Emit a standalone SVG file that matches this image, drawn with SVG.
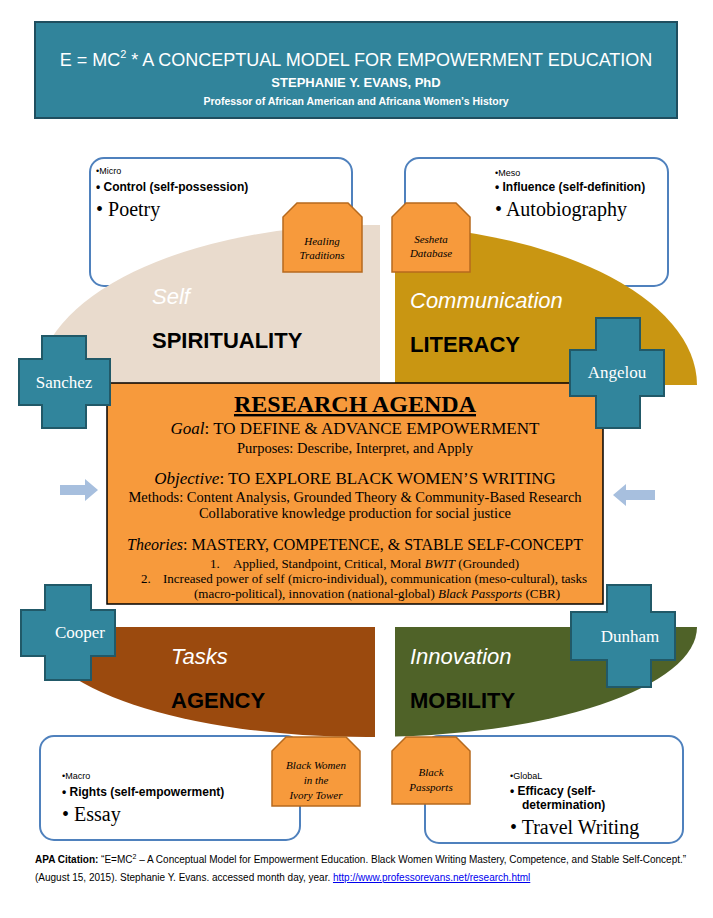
<svg xmlns="http://www.w3.org/2000/svg" width="713" height="918" viewBox="0 0 713 918">
<style>
.s{font-family:"Liberation Sans",Arial,sans-serif}
.r{font-family:"Liberation Serif","Times New Roman",serif}
.box{fill:#fff;stroke:#4F81BD;stroke-width:2}
.cross{fill:#31859C;stroke:#215968;stroke-width:2}
.tag{fill:#F79A3C;stroke:#B66A1E;stroke-width:1.5}
.ct{fill:#fff;font-size:17px;text-anchor:middle}
.q{font-size:22px;fill:#fff;font-style:italic}
.b{font-size:22px;font-weight:bold;fill:#000}
.tt{font-size:11px;font-style:italic;text-anchor:middle}
</style>
<defs>
<clipPath id="tl"><rect x="0" y="0" width="380" height="385"/></clipPath>
<clipPath id="tr"><rect x="395" y="0" width="320" height="385"/></clipPath>
<clipPath id="bl"><rect x="0" y="627" width="375" height="200"/></clipPath>
<clipPath id="br"><rect x="395" y="627" width="320" height="200"/></clipPath>
</defs>
<rect width="713" height="918" fill="#fff"/>
<g id="header">
<rect x="35" y="22" width="642" height="96" fill="#31849B" stroke="#1F4E5F" stroke-width="2"/>
<text class="s" x="356" y="66" fill="#fff" font-size="18" text-anchor="middle">E = MC<tspan font-size="11" dy="-8">2</tspan><tspan dy="8">  * A CONCEPTUAL MODEL FOR  EMPOWERMENT EDUCATION</tspan></text>
<text class="s" x="356" y="87" fill="#fff" font-size="13" font-weight="bold" text-anchor="middle">STEPHANIE Y. EVANS, PhD</text>
<text class="s" x="356" y="105" fill="#fff" font-size="10.5" font-weight="bold" text-anchor="middle">Professor of African American and Africana Women’s History</text>
</g>
<g id="box-micro">
<rect class="box" x="90" y="158" width="262" height="128" rx="14"/>
<text class="s" x="96" y="174" font-size="9">•Micro</text>
<text class="s" x="96" y="191" font-size="12" font-weight="bold">• Control (self-possession)</text>
<text class="r" x="96" y="216" font-size="20">• Poetry</text>
</g>
<g id="box-meso">
<rect class="box" x="405" y="158" width="263" height="128" rx="14"/>
<text class="s" x="495" y="176" font-size="9">•Meso</text>
<text class="s" x="495" y="191" font-size="12" font-weight="bold">• Influence (self-definition)</text>
<text class="r" x="495" y="216" font-size="20">• Autobiography</text>
</g>
<g id="box-macro">
<rect class="box" x="40" y="736" width="260" height="104" rx="14"/>
<text class="s" x="62" y="779" font-size="9">•Macro</text>
<text class="s" x="62" y="796" font-size="12" font-weight="bold">• Rights (self-empowerment)</text>
<text class="r" x="62" y="821" font-size="20">• Essay</text>
</g>
<g id="box-global">
<rect class="box" x="425" y="736" width="258" height="107" rx="14"/>
<text class="s" x="510" y="779" font-size="9">•GlobaL</text>
<text class="s" x="510" y="795" font-size="12" font-weight="bold">• Efficacy (self-</text>
<text class="s" x="522" y="809" font-size="12" font-weight="bold">determination)</text>
<text class="r" x="510" y="834" font-size="20">• Travel Writing</text>
</g>
<g id="q-self">
<ellipse cx="367" cy="385" rx="330" ry="160" fill="#E9DBCD" clip-path="url(#tl)"/>
<text class="s q" x="152" y="304">Self</text>
<text class="s b" x="152" y="348">SPIRITUALITY</text>
</g>
<g id="q-comm">
<ellipse cx="367" cy="385" rx="330" ry="160" fill="#C99612" clip-path="url(#tr)"/>
<text class="s q" x="410" y="308">Communication</text>
<text class="s b" x="410" y="352">LITERACY</text>
</g>
<g id="q-tasks">
<ellipse cx="367" cy="627" rx="330" ry="110" fill="#9B4A0E" clip-path="url(#bl)"/>
<text class="s q" x="171" y="664">Tasks</text>
<text class="s b" x="171" y="708">AGENCY</text>
</g>
<g id="q-innov">
<ellipse cx="367" cy="627" rx="330" ry="110" fill="#4F6228" clip-path="url(#br)"/>
<text class="s q" x="410" y="664">Innovation</text>
<text class="s b" x="410" y="708">MOBILITY</text>
</g>
<g id="tag-healing">
<path class="tag" d="M297,203 H348 L362,217 V272 H283 V217 Z"/>
<text class="r tt" x="322" y="245">Healing</text><text class="r tt" x="322" y="259">Traditions</text>
</g>
<g id="tag-sesheta">
<path class="tag" d="M406,203 H456 L470,217 V272 H392 V217 Z"/>
<text class="r tt" x="431" y="243">Sesheta</text><text class="r tt" x="431" y="257">Database</text>
</g>
<g id="tag-bwit">
<path class="tag" d="M286,737 H346 L360,751 V806 H272 V751 Z"/>
<text class="r tt" x="316" y="769">Black Women</text><text class="r tt" x="316" y="784">in the</text><text class="r tt" x="316" y="799">Ivory Tower</text>
</g>
<g id="tag-passports">
<path class="tag" d="M406,737 H456 L470,751 V804 H392 V751 Z"/>
<text class="r tt" x="431" y="776">Black</text><text class="r tt" x="431" y="791">Passports</text>
</g>
<g id="agenda">
<rect x="107" y="383" width="496" height="221" fill="#F79A3C" stroke="#000" stroke-width="1.5"/>
<g class="r" text-anchor="middle" fill="#000">
<text x="355" y="412" font-size="24" font-weight="bold" text-decoration="underline">RESEARCH AGENDA</text>
<text x="355" y="434" font-size="17"><tspan font-style="italic">Goal</tspan>: TO DEFINE &amp; ADVANCE EMPOWERMENT</text>
<text x="355" y="453" font-size="14.5">Purposes: Describe, Interpret, and Apply</text>
<text x="355" y="484" font-size="17"><tspan font-style="italic">Objective</tspan>:  TO EXPLORE BLACK WOMEN’S WRITING</text>
<text x="355" y="502" font-size="14.5">Methods: Content Analysis, Grounded Theory &amp; Community-Based Research</text>
<text x="355" y="518" font-size="14.5">Collaborative knowledge production for social justice</text>
<text x="355" y="550" font-size="16"><tspan font-style="italic">Theories</tspan>: MASTERY, COMPETENCE, &amp; STABLE SELF-CONCEPT</text>
</g>
<g class="r" font-size="13">
<text x="210" y="568">1.</text><text x="233" y="568">Applied, Standpoint, Critical, Moral <tspan font-style="italic">BWIT</tspan> (Grounded)</text>
<text x="141" y="583">2.</text><text x="163" y="583">Increased power of self (micro-individual), communication (meso-cultural), tasks</text>
<text x="194" y="598">(macro-political), innovation (national-global) <tspan font-style="italic">Black Passports</tspan> (CBR)</text>
</g>
</g>
<g id="cross-sanchez">
<path class="cross" d="M42,336 H86 V359 H110 V405 H86 V428 H42 V405 H19 V359 H42 Z"/>
<text class="r ct" x="64" y="388">Sanchez</text>
</g>
<g id="cross-angelou">
<path class="cross" d="M596,318 H640 V350 H664 V396 H640 V428 H596 V396 H570 V350 H596 Z"/>
<text class="r ct" x="617" y="378">Angelou</text>
</g>
<g id="cross-cooper">
<path class="cross" d="M45,585 H91 V610 H115 V656 H91 V680 H45 V656 H21 V610 H45 Z"/>
<text class="r ct" x="80" y="638">Cooper</text>
</g>
<g id="cross-dunham">
<path class="cross" d="M607,585 H651 V612 H675 V660 H651 V687 H607 V660 H571 V612 H607 Z"/>
<text class="r ct" x="630" y="642">Dunham</text>
</g>
<g id="connectors">
<path d="M60,485 H85 V479 L98,490 L85,501 V495 H60 Z" fill="#A7BFDE"/>
<path d="M655,490 H626 V484 L613,495 L626,506 V500 H655 Z" fill="#A7BFDE"/>
</g>
<g id="citation" class="s" font-size="10">
<text x="35" y="863"><tspan font-weight="bold">APA Citation:</tspan> “E=MC<tspan font-size="7" dy="-4">2</tspan><tspan dy="4"> – A Conceptual Model for Empowerment Education. Black Women Writing Mastery, Competence, and Stable Self-Concept.”</tspan></text>
<text x="35" y="881">(August 15, 2015). Stephanie Y. Evans. accessed month day, year. <tspan fill="#0000EE" text-decoration="underline">http://www.professorevans.net/research.html</tspan></text>
</g>
</svg>
